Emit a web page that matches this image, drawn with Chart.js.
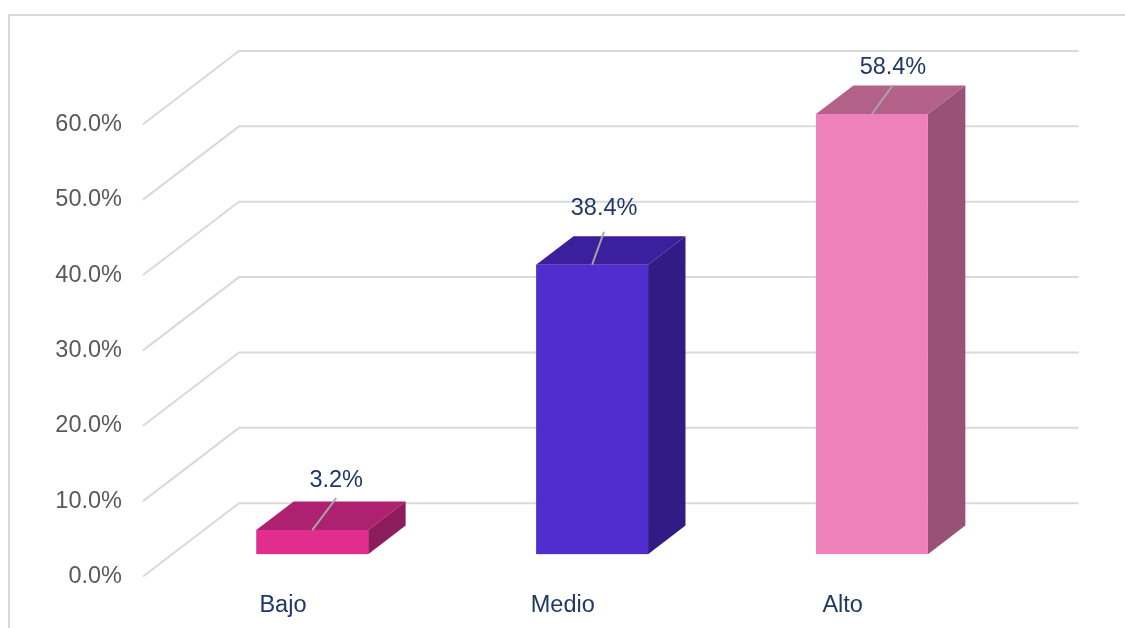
<!DOCTYPE html>
<html lang="es">
<head>
<meta charset="utf-8">
<title>Nivel</title>
<script src="https://cdn.jsdelivr.net/npm/chart.js@4.4.1/dist/chart.umd.min.js"></script>
<style>
  html, body { margin: 0; padding: 0; background: #ffffff; }
  canvas { display: block; }
</style>
</head>
<body>
<canvas id="chart" width="1125" height="628" style="width:1125px;height:628px"></canvas>
<script>
// Categories and their percentage shares
const categories = ['Bajo', 'Medio', 'Alto'];
const shares = [3.2, 38.4, 58.4];
// Value axis ticks (percent)
const yTickValues = [0, 10, 20, 30, 40, 50, 60];

// Face colours of each 3D column: front, top, side
const frontColors = ['#E12D8E', '#512CCF', '#EF81BA'];
const topColors   = ['#AD2170', '#3B1F9D', '#B36189'];
const sideColors  = ['#8C1C5B', '#331B86', '#985278'];

// Data label placement relative to the top-front centre of each column
const labelShift = [[24, -50], [12, -56], [21, -46]];
const leaderGap = [18, 23, 17];

// Perspective of the 3D box: full depth of the floor, and where the columns sit in it
const DEPTH_X = 96;
const DEPTH_Y = -73.3;
const COL_NEAR = 0.305;
const COL_FAR = 0.695;

const GRID_COLOR = '#D9D9D9';
const NAVY = '#1F3864';
const FONT_FAMILY = '"Liberation Sans", Arial, sans-serif';
const FONT_SIZE = 23.5;

const depth3d = {
  id: 'depth3d',
  beforeDraw(chart) {
    const ctx = chart.ctx;
    ctx.save();
    ctx.strokeStyle = GRID_COLOR;
    ctx.lineWidth = 2;
    ctx.beginPath();
    ctx.moveTo(9, chart.height);
    ctx.lineTo(9, 15);
    ctx.lineTo(chart.width, 15);
    ctx.stroke();
    ctx.restore();
  },
  beforeDatasetsDraw(chart) {
    const ctx = chart.ctx;
    const area = chart.chartArea;
    const y = chart.scales.y;
    ctx.save();
    ctx.strokeStyle = GRID_COLOR;
    ctx.lineWidth = 2;
    y.ticks.forEach(t => {
      const py = y.getPixelForValue(t.value);
      ctx.beginPath();
      ctx.moveTo(area.left, py);
      ctx.lineTo(area.left + DEPTH_X, py + DEPTH_Y);
      ctx.lineTo(area.right + DEPTH_X, py + DEPTH_Y);
      ctx.stroke();
    });
    ctx.restore();
  },
  afterDatasetsDraw(chart) {
    const ctx = chart.ctx;
    const meta = chart.getDatasetMeta(0);
    const nx = COL_NEAR * DEPTH_X, ny = COL_NEAR * DEPTH_Y;
    const dx = (COL_FAR - COL_NEAR) * DEPTH_X, dy = (COL_FAR - COL_NEAR) * DEPTH_Y;
    ctx.save();
    meta.data.forEach((bar, i) => {
      const p = bar.getProps(['x', 'y', 'base', 'width'], true);
      const x0 = p.x - p.width / 2 + nx;
      const x1 = p.x + p.width / 2 + nx;
      const yt = p.y + ny;
      const yb = p.base + ny;

      // top face
      ctx.fillStyle = topColors[i];
      ctx.beginPath();
      ctx.moveTo(x0, yt);
      ctx.lineTo(x0 + dx, yt + dy);
      ctx.lineTo(x1 + dx, yt + dy);
      ctx.lineTo(x1, yt);
      ctx.closePath();
      ctx.fill();

      // side face
      ctx.fillStyle = sideColors[i];
      ctx.beginPath();
      ctx.moveTo(x1, yt);
      ctx.lineTo(x1 + dx, yt + dy);
      ctx.lineTo(x1 + dx, yb + dy);
      ctx.lineTo(x1, yb);
      ctx.closePath();
      ctx.fill();

      // front face
      ctx.fillStyle = frontColors[i];
      ctx.fillRect(x0, yt, x1 - x0, yb - yt);

      // leader line and value label
      const ax = (x0 + x1) / 2;
      const lx = ax + labelShift[i][0];
      const ly = yt + labelShift[i][1];
      ctx.strokeStyle = '#A6A6A6';
      ctx.lineWidth = 2;
      ctx.beginPath();
      ctx.moveTo(ax, yt);
      ctx.lineTo(lx, ly + leaderGap[i]);
      ctx.stroke();

      ctx.fillStyle = NAVY;
      ctx.font = FONT_SIZE + 'px ' + FONT_FAMILY;
      ctx.textAlign = 'center';
      ctx.textBaseline = 'middle';
      ctx.fillText(shares[i].toFixed(1) + '%', lx, ly);
    });
    ctx.restore();
  }
};

Chart.defaults.font.family = FONT_FAMILY;
Chart.defaults.font.size = FONT_SIZE;

new Chart(document.getElementById('chart'), {
  type: 'bar',
  data: {
    labels: categories,
    datasets: [{
      data: shares,
      backgroundColor: 'rgba(0,0,0,0)',
      borderWidth: 0,
      barPercentage: 0.4,
      categoryPercentage: 1.0
    }]
  },
  options: {
    responsive: false,
    devicePixelRatio: 1,
    animation: false,
    events: [],
    layout: { padding: { top: 124.3, right: 142.4, bottom: 0, left: 0 } },
    plugins: {
      legend: { display: false },
      tooltip: { enabled: false }
    },
    scales: {
      x: {
        grid: { display: false, drawTicks: false },
        border: { display: false },
        ticks: { color: NAVY, padding: 15, maxRotation: 0 },
        afterFit(scale) { scale.height = 51.5; }
      },
      y: {
        min: 0,
        max: 60,
        afterBuildTicks(scale) { scale.ticks = yTickValues.map(v => ({ value: v })); },
        grid: { display: false, drawTicks: false },
        border: { display: false },
        ticks: {
          color: '#595959',
          padding: 21,
          callback: v => v.toFixed(1) + '%'
        },
        afterFit(scale) { scale.width = 143; }
      }
    }
  },
  plugins: [depth3d]
});
</script>
</body>
</html>
